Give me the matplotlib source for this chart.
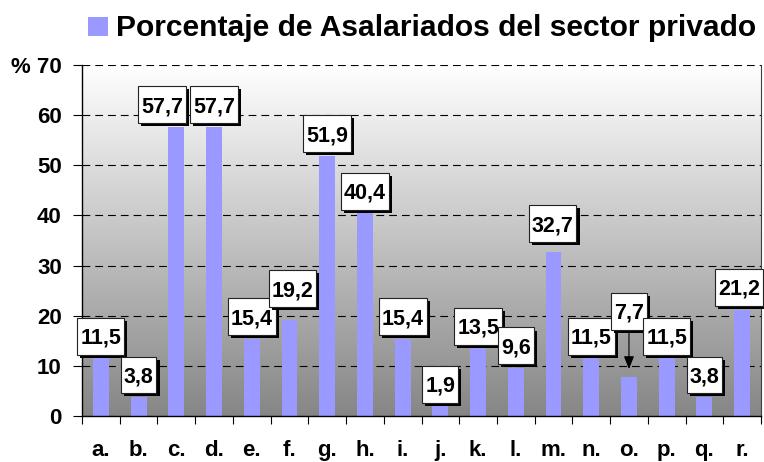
import matplotlib
matplotlib.use("Agg")
import matplotlib.pyplot as plt
import numpy as np
from matplotlib.colors import LinearSegmentedColormap
import matplotlib.patheffects as pe
from matplotlib.patches import Rectangle
from matplotlib.path import Path

# ---- data ----
categories = ['a.', 'b.', 'c.', 'd.', 'e.', 'f.', 'g.', 'h.', 'i.', 'j.',
              'k.', 'l.', 'm.', 'n.', 'o.', 'p.', 'q.', 'r.']
values = [11.5, 3.8, 57.7, 57.7, 15.4, 19.2, 51.9, 40.4, 15.4, 1.9,
          13.5, 9.6, 32.7, 11.5, 7.7, 11.5, 3.8, 21.2]
series_name = 'Porcentaje de Asalariados del sector privado'
yticks = [0, 10, 20, 30, 40, 50, 60, 70]
ytick_labels = ['0', '10', '20', '30', '40', '50', '60', '% 70']

# label box offsets (pixels, text anchor relative to bar top)
default_offset = (0, 20)
label_offsets = {'c.': (-14, 20), 'f.': (3, 29), 'm.': (-1, 26.5),
                 'o.': (0, 64), 'r.': (-3, 20.5)}
arrow_labels = ['o.']

plt.rcParams['font.family'] = ['Liberation Sans', 'DejaVu Sans']
plt.rcParams['font.weight'] = 'bold'

W, H = 764, 462
fig = plt.figure(figsize=(W / 100, H / 100), dpi=100)
fig.patch.set_facecolor('white')
ax = fig.add_axes([82 / W, 46 / H, 679 / W, 351 / H])

x = np.arange(len(categories))
ax.set_xlim(-0.5, len(categories) - 0.5)
ax.set_ylim(0, 70)

# gradient background
cmap = LinearSegmentedColormap.from_list('bg', ['#868686', '#ffffff'])
ax.imshow(np.linspace(0, 1, 256).reshape(-1, 1), cmap=cmap,
          extent=[-0.5, len(categories) - 0.5, 0, 70], origin='lower',
          aspect='auto', zorder=0)

ax.set_axisbelow(True)
ax.yaxis.grid(True, color='black', linewidth=0.8, linestyle=(0, (7, 4.5)))

ax.bar(x, values, width=0.42, color='#9999FF', zorder=2)

# axes styling
ax.spines['top'].set_visible(False)
ax.spines['right'].set_color('#404040')
ax.spines['right'].set_linewidth(0.8)
for s in ['left', 'bottom']:
    ax.spines[s].set_color('black')
    ax.spines[s].set_linewidth(1.0)

ax.set_yticks(yticks)
ax.set_yticklabels(ytick_labels, fontsize=16, fontweight='bold')
ax.tick_params(axis='y', length=6.5, width=0.8, pad=8)

ax.set_xticks(np.arange(-0.5, len(categories), 1))
ax.set_xticklabels([''] * (len(categories) + 1))
ax.set_xticks(x, minor=True)
ax.set_xticklabels(categories, minor=True, fontsize=16, fontweight='bold')
ax.tick_params(axis='x', which='major', length=6, width=0.8, direction='out')
ax.tick_params(axis='x', which='minor', length=0, pad=17)


def label_box(x0, y0, width, height, mutation_size):
    px = 0.14 * mutation_size
    pt = 0.46 * mutation_size
    pb = 0.27 * mutation_size
    l, r = x0 - px, x0 + width + px
    b, t = y0 - pb, y0 + height + pt
    return Path([(l, b), (r, b), (r, t), (l, t), (l, b)],
                [Path.MOVETO, Path.LINETO, Path.LINETO, Path.LINETO, Path.CLOSEPOLY])


# data labels
for xi, cat, v in zip(x, categories, values):
    dx, dy = label_offsets.get(cat, default_offset)
    txt = f"{v:.1f}".replace('.', ',')
    kw = {}
    if cat in arrow_labels:
        kw['arrowprops'] = dict(arrowstyle='-|>,head_length=0.5,head_width=0.2',
                                color='black', lw=0.8, shrinkA=0, shrinkB=6,
                                relpos=(0.5, 0))
    ann = ax.annotate(txt, xy=(xi, v), xytext=(dx, dy), textcoords='offset pixels',
                      ha='center', va='center', fontsize=15.5, fontweight='bold',
                      zorder=5,
                      bbox=dict(boxstyle=label_box, facecolor='white',
                                edgecolor='#222222', linewidth=0.8), **kw)
    ann.get_bbox_patch().set_path_effects(
        [pe.SimplePatchShadow(offset=(2.2, -2.2), shadow_rgbFace='black', alpha=1.0),
         pe.Normal()])

# legend / title
fig.patches.append(Rectangle((88 / W, 1 - 36 / H), 20 / W, 19 / H,
                             transform=fig.transFigure, facecolor='#9999FF',
                             edgecolor='none'))
fig.text(116 / W, 1 - 36 / H, series_name, fontsize=21.6, fontweight='bold',
         va='baseline', ha='left')

fig.savefig('out.png', dpi=100)
